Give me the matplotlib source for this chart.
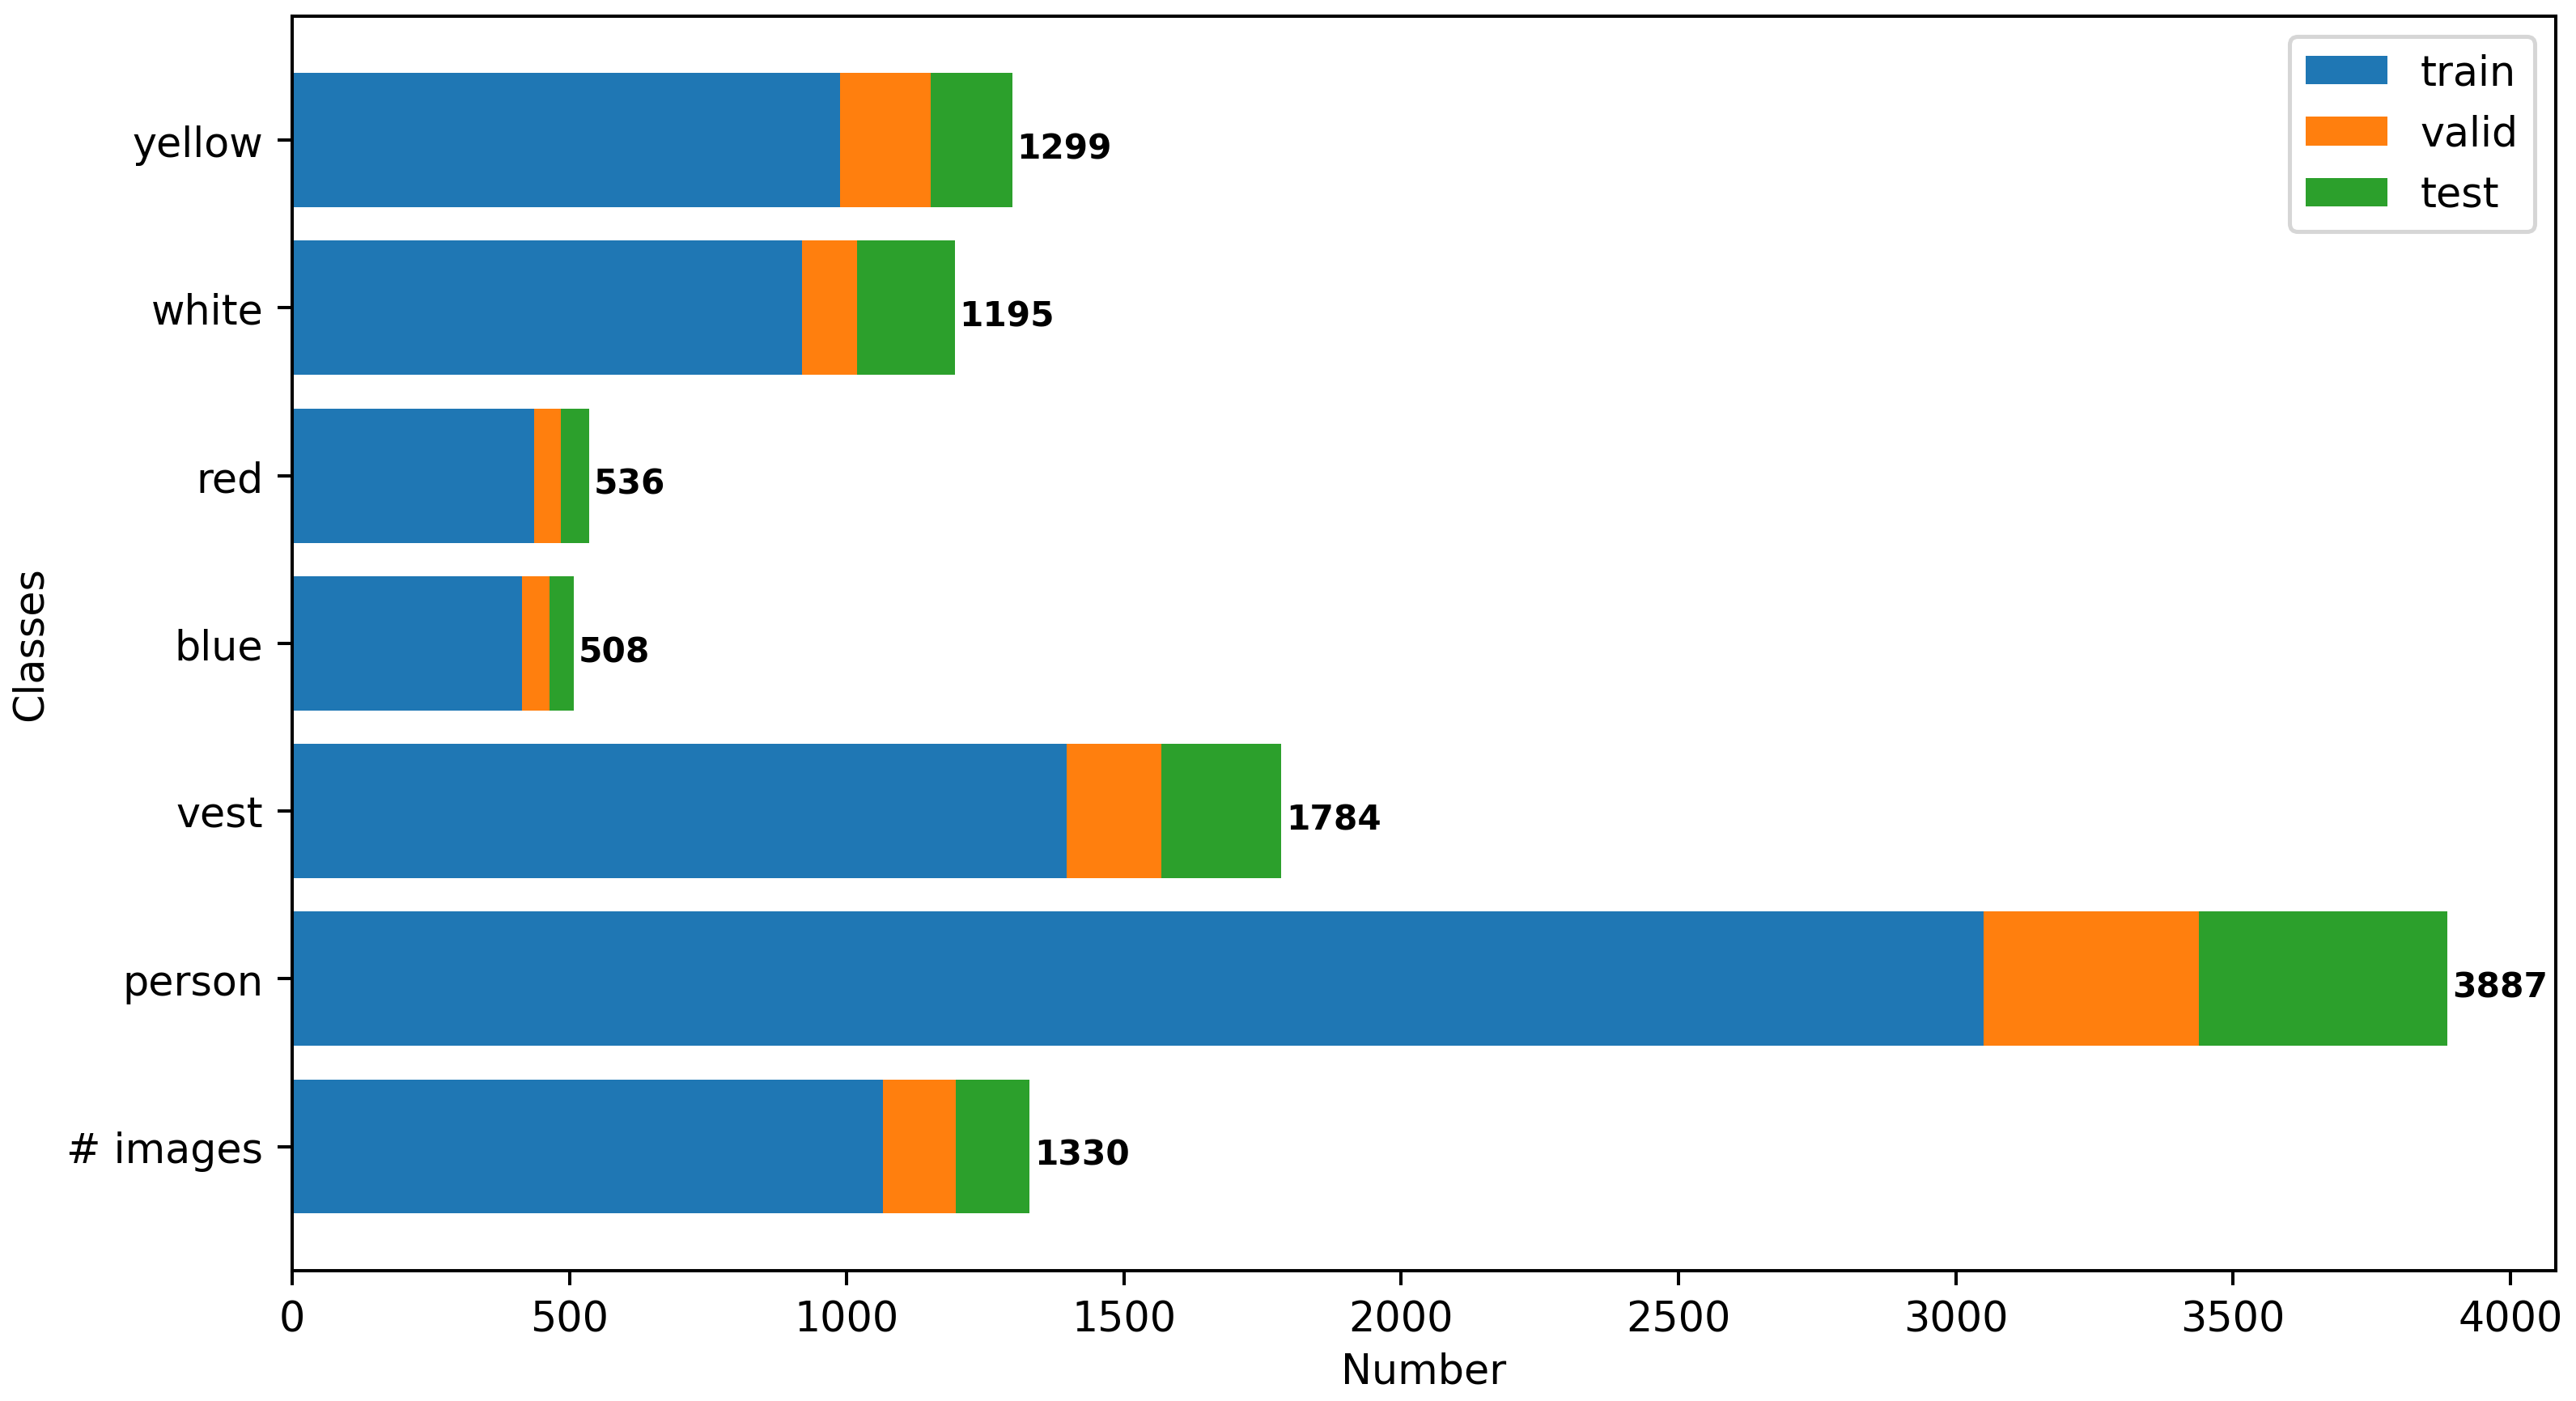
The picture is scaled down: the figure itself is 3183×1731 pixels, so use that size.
import numpy as np
import matplotlib.pyplot as plt

classes = ['# images', 'person', 'vest', 'blue', 'red', 'white', 'yellow']
train = [1065, 3050, 1397, 415, 437, 920, 988]
valid = [132, 389, 171, 49, 48, 99, 164]
test = [133, 448, 216, 44, 51, 176, 147]

train = np.array(train)
valid = np.array(valid)
test = np.array(test)
total = train + valid + test

dpi = 365
fig, ax = plt.subplots(figsize=(3183 / dpi, 1732 / dpi), dpi=dpi)
fig.subplots_adjust(left=0.1134, right=0.992, bottom=0.093, top=0.988)

ax.barh(classes, train, label='train')
ax.barh(classes, valid, left=train, label='valid')
ax.barh(classes, test, left=train + valid, label='test')

# totals next to each bar (nudged a bit down like the original)
for i, t in enumerate(total):
    ax.text(t + 8, i - 0.05, str(t), va='center', ha='left',
            fontsize='small', fontweight='bold')

ax.set_xlabel('Number', labelpad=2.8)
ax.set_ylabel('Classes')
ax.legend(loc='upper right')

plt.savefig('out.png', dpi=dpi)
